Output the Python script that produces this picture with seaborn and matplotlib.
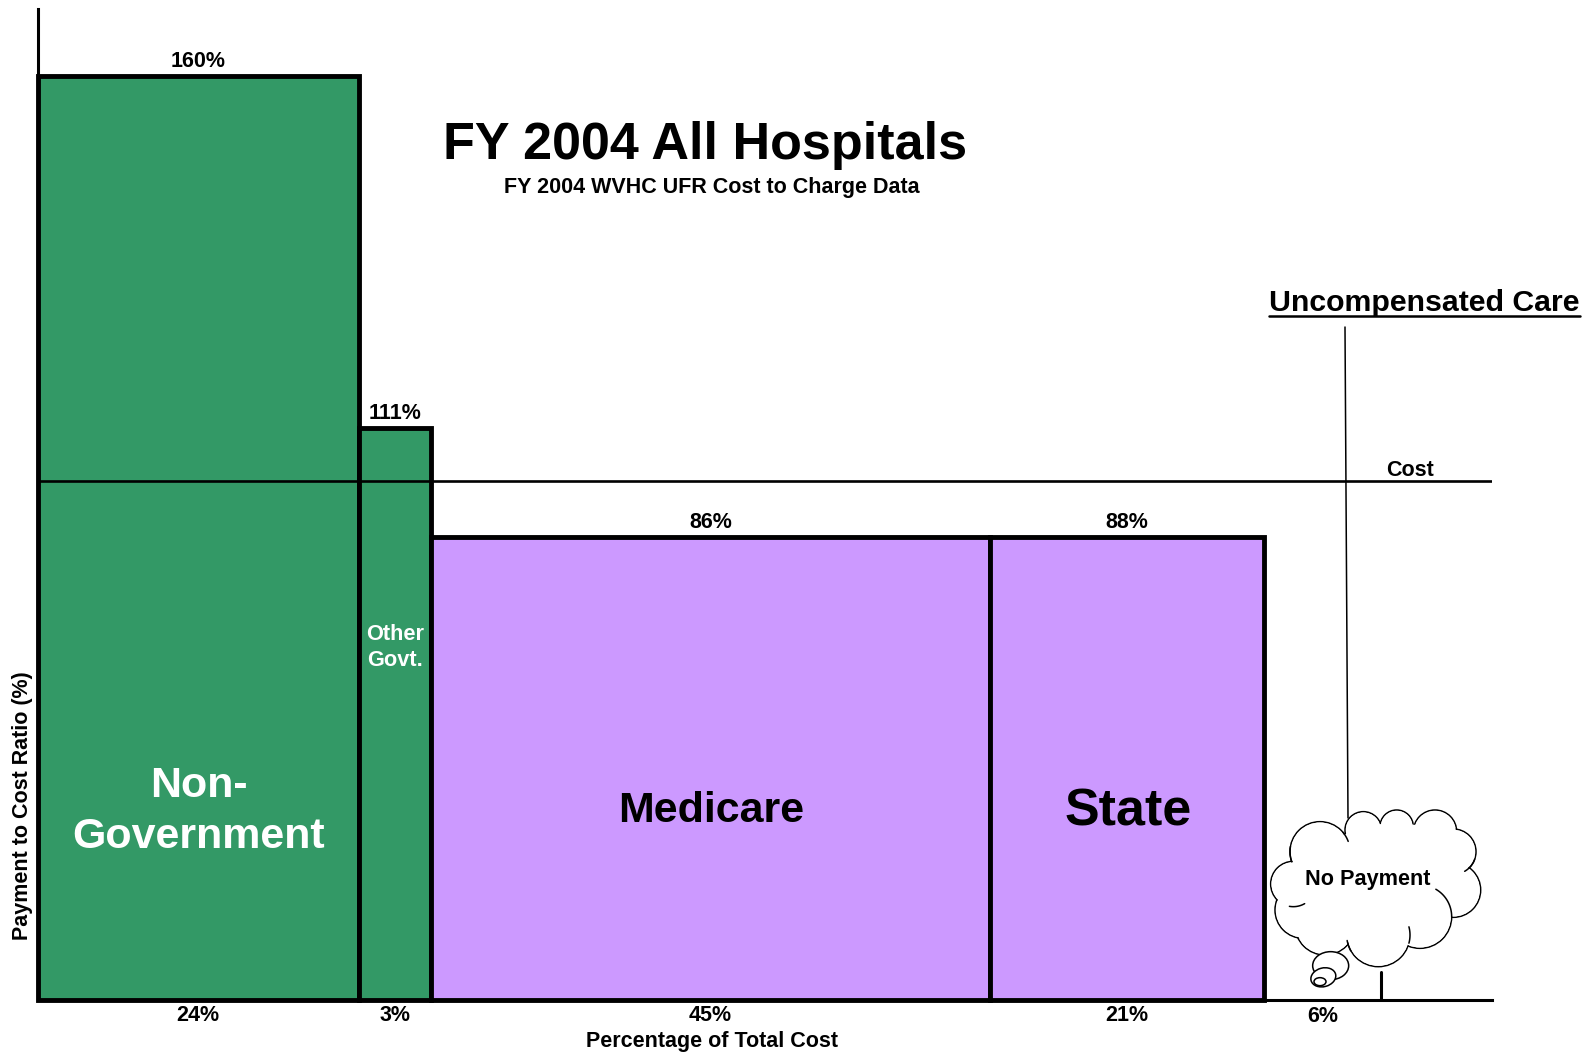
import numpy as np
import pandas as pd
import matplotlib
matplotlib.use('Agg')
import matplotlib.pyplot as plt
from matplotlib.patches import Circle, Ellipse, Polygon
import seaborn as sns

# Values
categories = ['Non-Government', 'Other Govt.', 'Medicare', 'State']
# drawn heights and widths differ from the printed labels in the original
bar_heights = [178.0, 110.3, 89.3, 89.3]
bar_widths = [22.05, 4.95, 38.5, 18.8]
top_labels = ['160%', '111%', '86%', '88%']
bottom_labels = ['24%', '3%', '45%', '21%']
bar_colors = ['#339966', '#339966', '#CC99FF', '#CC99FF']
uncomp_label = '6%'

W, H = 1587, 1053
AX_L, AX_R, AX_T, AX_B = 38, 1492, 9, 1000

sns.set_theme(style='white')
plt.rcParams['font.family'] = ['Liberation Sans', 'DejaVu Sans']
plt.rcParams['font.weight'] = 'bold'
plt.rcParams['text.color'] = 'black'

fig = plt.figure(figsize=(W / 100, H / 100), dpi=100, facecolor='white')
ax = fig.add_axes([AX_L / W, 1 - AX_B / H, (AX_R - AX_L) / W, (AX_B - AX_T) / H])

df = pd.DataFrame({'cat': categories, 'h': bar_heights})
sns.barplot(data=df, x='cat', y='h', hue='cat', palette=bar_colors, legend=False,
            dodge=False, saturation=1, ax=ax, edgecolor='black', linewidth=3.5)

# barplot only does equal widths, so move the bars to a marimekko layout
lefts = np.concatenate([[0], np.cumsum(bar_widths)[:-1]])
bars = [p for p in ax.patches if p.get_height() > 0]
bars = sorted(bars, key=lambda p: p.get_x())
for p, l, w in zip(bars, lefts, bar_widths):
    p.set_x(l)
    p.set_width(w)
    p.set_clip_on(False)
    p.set_zorder(3)

ax.set_xlim(0, 100)
ax.set_ylim(0, 191.0)
ax.set_xticks([])
ax.set_yticks([])
ax.set_xlabel('')
ax.set_ylabel('')
sns.despine(ax=ax)
ax.spines['left'].set_linewidth(2.2)
ax.spines['bottom'].set_linewidth(2.2)
ax.spines['left'].set_color('black')
ax.spines['bottom'].set_color('black')
ax.axhline(100, color='black', lw=1.9, zorder=4)

SMALL = 15.5
for l, w, h, t, b in zip(lefts, bar_widths, bar_heights, top_labels, bottom_labels):
    ax.annotate(t, (l + w / 2, h), xytext=(0, 3), textcoords='offset points',
                ha='center', va='bottom', fontsize=SMALL, color='black')
    ax.annotate(b, (l + w / 2, 0), xytext=(0, -3.5), textcoords='offset points',
                ha='center', va='top', fontsize=SMALL, color='black')

# Overlay in pixel coordinates for the title, callouts and cloud
ov = fig.add_axes([0, 0, 1, 1], facecolor='none', zorder=10)
ov.set_xlim(0, W)
ov.set_ylim(H, 0)
ov.axis('off')

ov.text(705, 146, 'FY 2004 All Hospitals', ha='center', va='center', fontsize=37.5)
ov.text(712, 188, 'FY 2004 WVHC UFR Cost to Charge Data', ha='center', va='center', fontsize=SMALL)
ov.text(199, 786, 'Non-', ha='center', va='center', fontsize=31, color='white')
ov.text(199, 837, 'Government', ha='center', va='center', fontsize=31, color='white')
ov.text(395, 634, 'Other', ha='center', va='center', fontsize=15.7, color='white')
ov.text(395, 661, 'Govt.', ha='center', va='center', fontsize=15.7, color='white')
ov.text(711, 811, 'Medicare', ha='center', va='center', fontsize=31, color='black')
ov.text(1128, 812, 'State', ha='center', va='center', fontsize=37.5, color='black')
ov.text(1410, 471, 'Cost', ha='center', va='center', fontsize=SMALL)
ov.text(1323, 1016, uncomp_label, ha='center', va='center', fontsize=SMALL)
ov.text(712, 1042, 'Percentage of Total Cost', ha='center', va='center', fontsize=SMALL)
ov.text(23, 806, 'Payment to Cost Ratio (%)', ha='center', va='center', rotation=90, fontsize=SMALL)

ov.text(1424, 303, 'Uncompensated Care', ha='center', va='center', fontsize=21.8)
ov.plot([1269, 1580], [316, 316], color='black', lw=1.8)
ov.plot([1345, 1348], [327, 818], color='black', lw=1.1)
ov.plot([1381, 1381], [972, 1000], color='black', lw=2.2)


# cloud lobes, given in the 3x zoom frame of the reference
def zx(v):
    return 1240 + np.asarray(v) / 3


def zy(v):
    return 780 + np.asarray(v) / 3


lobes = [(240, 215, 90), (370, 150, 55), (470, 140, 50), (585, 155, 65), (640, 215, 68),
         (640, 330, 82), (540, 410, 95), (415, 465, 95), (255, 435, 90), (190, 390, 85),
         (160, 312, 68)]
for cx, cy, r in lobes:
    ov.add_patch(Circle((zx(cx), zy(cy)), r / 3, fc='white', ec='black', lw=1.1, zorder=2))
for cx, cy, r in lobes:
    ov.add_patch(Circle((zx(cx), zy(cy)), r / 3 - 0.9, fc='white', ec='none', zorder=3))
# hide the lobe outlines that cross inside the cloud
ov.add_patch(Polygon([(zx(c[0]), zy(c[1])) for c in lobes], fc='white', ec='white', lw=6, zorder=3))

inner_arcs = [(540, 410, 95, -60, 0), (160, 312, 68, 60, 100), (240, 215, 90, 160, 190),
              (240, 215, 90, -40, -20), (640, 215, 68, 20, 60), (415, 465, 95, -15, 15),
              (415, 465, 95, 150, 170)]
for cx, cy, r, t0, t1 in inner_arcs:
    t = np.radians(np.linspace(t0, t1, 30))
    ov.plot(zx(cx + r * np.cos(t)), zy(cy + r * np.sin(t)), color='black', lw=1.1, zorder=4)

for cx, cy, rx, ry, ang in [(272, 557, 54, 42, 0), (250, 592, 38, 28, -15), (240, 605, 18, 12, 0)]:
    ov.add_patch(Ellipse((zx(cx), zy(cy)), 2 * rx / 3, 2 * ry / 3, angle=ang, fc='white', ec='black',
                         lw=1.1, zorder=5))

ov.text(1368, 879, 'No Payment', ha='center', va='center', fontsize=15.6, zorder=6)

plt.savefig('out.png', dpi=100)
